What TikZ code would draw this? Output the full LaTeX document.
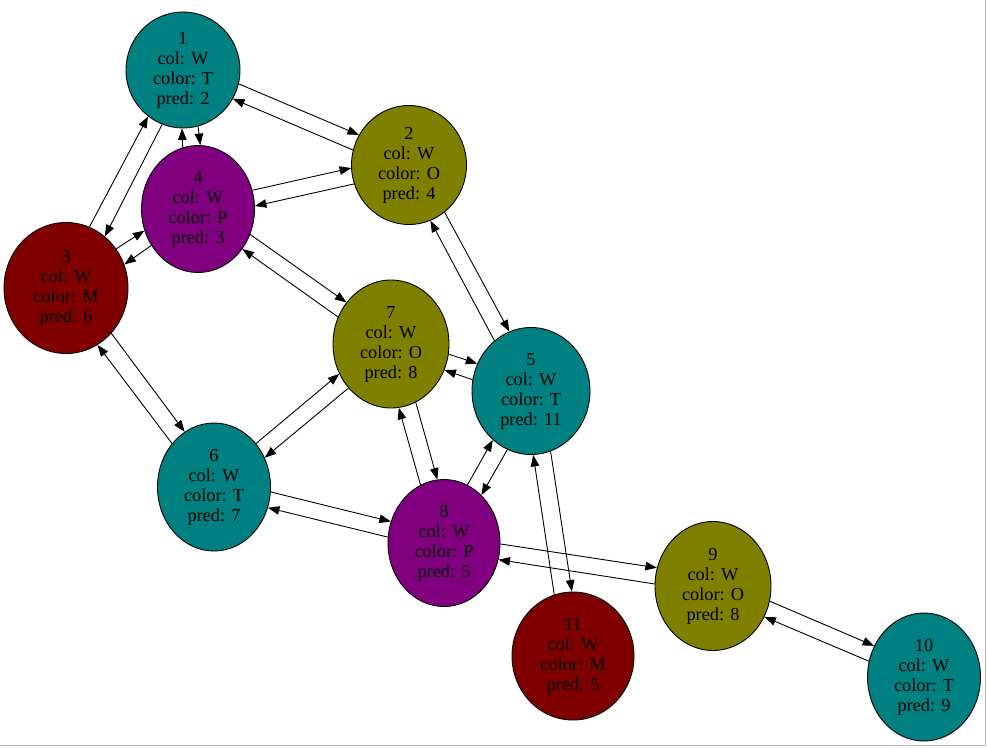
\documentclass[tikz,border=0pt]{standalone}
\usepackage{fontspec}
\setmainfont{Liberation Serif}
\usetikzlibrary{shapes.geometric,arrows.meta,calc}

\definecolor{cteal}{HTML}{008080}
\definecolor{colive}{HTML}{808000}
\definecolor{cpurple}{HTML}{800080}
\definecolor{cmaroon}{HTML}{800000}

\tikzset{
  vert/.style={ellipse, draw=black, line width=0.9pt, inner sep=0pt,
    align=center, font=\fontsize{18.3}{20}\selectfont},
  arr/.style={-{Triangle[length=11.5pt,width=8.5pt]}, line width=0.9pt, black},
}

% a pair of opposite edges between two nodes, the a->b edge on the left side
\newcommand\twoway[2]{%
  \draw[arr] let \p1=($(#2)-(#1)$), \n1={atan2(\y1,\x1)+8}, \n2={atan2(\y1,\x1)+172}
    in (#1.{\n1}) -- (#2.{\n2});
  \draw[arr] let \p1=($(#2)-(#1)$), \n1={atan2(\y1,\x1)+188}, \n2={atan2(\y1,\x1)-8}
    in (#2.{\n1}) -- (#1.{\n2});
}

\begin{document}
\begin{tikzpicture}[x=1pt,y=-1pt]
\useasboundingbox (0,0) rectangle (987,747);
\draw[gray!55, line width=1pt] (985.5,0) -- (985.5,745.5) -- (0,745.5);

\node[vert, fill=cteal,   minimum width=114pt, minimum height=116pt] (n1)  at (183,70)  {1\\col: W\\color: T\\pred: 2};
\node[vert, fill=colive,  minimum width=115pt, minimum height=119pt] (n2)  at (409,165) {2\\col: W\\color: O\\pred: 4};
\node[vert, fill=cmaroon, minimum width=124pt, minimum height=131pt] (n3)  at (66,288)  {3\\col: W\\color: M\\pred: 6};
\node[vert, fill=cpurple, minimum width=113pt, minimum height=127pt] (n4)  at (198,209) {4\\col: W\\color: P\\pred: 3};
\node[vert, fill=cteal,   minimum width=118pt, minimum height=127pt] (n5)  at (531,391) {5\\col: W\\color: T\\pred: 11};
\node[vert, fill=cteal,   minimum width=113pt, minimum height=128pt] (n6)  at (214,487) {6\\col: W\\color: T\\pred: 7};
\node[vert, fill=colive,  minimum width=116pt, minimum height=128pt] (n7)  at (391,344) {7\\col: W\\color: O\\pred: 8};
\node[vert, fill=cpurple, minimum width=112pt, minimum height=127pt] (n8)  at (444,543) {8\\col: W\\color: P\\pred: 5};
\node[vert, fill=colive,  minimum width=116pt, minimum height=129pt] (n9)  at (713,586) {9\\col: W\\color: O\\pred: 8};
\node[vert, fill=cteal,   minimum width=113pt, minimum height=128pt] (n10) at (924,677) {10\\col: W\\color: T\\pred: 9};
\node[vert, fill=cmaroon, minimum width=122pt, minimum height=128pt] (n11) at (573,656) {11\\col: W\\color: M\\pred: 5};

\twoway{n1}{n2}
\twoway{n1}{n4}
\twoway{n3}{n1}
\twoway{n4}{n2}
\twoway{n2}{n5}
\twoway{n3}{n4}
\twoway{n4}{n7}
\twoway{n3}{n6}
\twoway{n6}{n7}
\twoway{n7}{n5}
\twoway{n7}{n8}
\twoway{n8}{n5}
\twoway{n5}{n11}
\twoway{n6}{n8}
\twoway{n8}{n9}
\twoway{n9}{n10}
\end{tikzpicture}
\end{document}
